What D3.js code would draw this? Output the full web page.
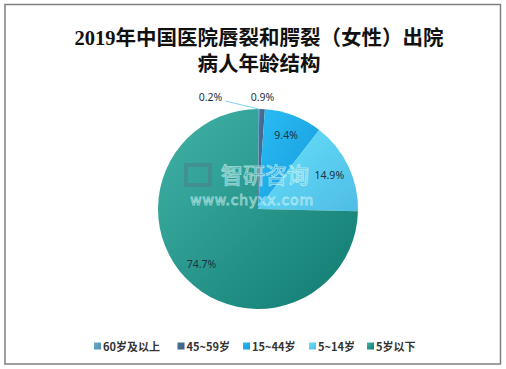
<!DOCTYPE html>
<html><head><meta charset="utf-8">
<script src="https://cdn.jsdelivr.net/npm/d3@7/dist/d3.min.js"></script>
<style>body{margin:0;background:#fff}svg{display:block}</style>
</head><body><svg id="c" width="506" height="369"></svg>
<script>
const categories = ["60岁及以上", "45~59岁", "15~44岁", "5~14岁", "5岁以下"];
const values = [0.2, 0.9, 9.4, 14.9, 74.7];
const labels = ["0.2%", "0.9%", "9.4%", "14.9%", "74.7%"];
const colorsLight = ["#66a8c8", "#4a7398", "#29bdf5", "#66e0fa", "#42b3a8"];
const colorsDark  = ["#5592b3", "#3b5d80", "#1799da", "#4fbde6", "#0f7a70"];
const titleLines = ["2019年中国医院唇裂和腭裂（女性）出院", "病人年龄结构"];

const svg = d3.select("#c");
svg.append("rect").attr("x",5).attr("y",4.5).attr("width",495.5).attr("height",359.5)
  .attr("fill","#fff").attr("stroke","#7f7f7f").attr("stroke-width",1.5);

const title = svg.append("text").attr("text-anchor","middle")
  .attr("font-family","'Liberation Serif','Noto Sans CJK SC',serif").attr("font-weight","bold")
  .attr("font-size",20.5).attr("fill","#111");
title.append("tspan").attr("x",259).attr("y",45).text(titleLines[0]);
title.append("tspan").attr("x",259).attr("y",71).text(titleLines[1]);

const cx = 258, cy = 209, r = 100;
const defs = svg.append("defs");
categories.forEach((c,i)=>{
  const g = defs.append("linearGradient").attr("id","g"+i)
    .attr("x1","0").attr("y1","0").attr("x2","1").attr("y2","1");
  g.append("stop").attr("offset","0%").attr("stop-color",colorsLight[i]);
  g.append("stop").attr("offset","100%").attr("stop-color",colorsDark[i]);
});

const pie = d3.pie().sort(null).value(d=>d)(values);
const arc = d3.arc().innerRadius(0).outerRadius(r);
const gP = svg.append("g").attr("transform",`translate(${cx},${cy})`);
gP.selectAll("path").data(pie).join("path")
  .attr("d",arc).attr("fill",(d,i)=>`url(#g${i})`);

// watermark
const wm = svg.append("g").attr("opacity",0.55);
wm.append("rect").attr("x",186).attr("y",165).attr("width",24).attr("height",20)
  .attr("fill","none").attr("stroke","#4d7f8a").attr("stroke-width",4);
wm.append("text").attr("x",221).attr("y",183).attr("text-anchor","start")
  .attr("font-family","'Noto Sans CJK SC'").attr("font-size",22)
  .attr("fill","#4d7f8a").attr("stroke","#dff").attr("stroke-width",1.2).text("智研咨询");
wm.append("text").attr("x",252).attr("y",204.5).attr("text-anchor","middle")
  .attr("font-family","'DejaVu Sans'").attr("font-size",14).attr("letter-spacing",0.8)
  .attr("fill","#4d7f8a").attr("stroke","#dff").attr("stroke-width",1).text("www.chyxx.com");

// labels
const inner = d3.arc().innerRadius(r*0.79).outerRadius(r*0.79);
const outer = d3.arc().innerRadius(r*1.12).outerRadius(r*1.12);
const pos = pie.map((d,i)=> values[i] < 5 ? outer.centroid(d) : inner.centroid(d));
// avoid overlap of small outside labels: shift first one to the left
pos[0] = [pos[1][0]-52, pos[1][1]];
const tip = d3.arc().innerRadius(r).outerRadius(r).centroid(pie[0]);
gP.append("line").attr("x1",pos[0][0]+15).attr("y1",pos[0][1]+4)
  .attr("x2",tip[0]).attr("y2",tip[1]).attr("stroke","#7fd3f0").attr("stroke-width",1);
gP.selectAll("text.l").data(pie).join("text").attr("class","l")
  .attr("x",(d,i)=>pos[i][0]).attr("y",(d,i)=>pos[i][1])
  .attr("text-anchor","middle").attr("dominant-baseline","central")
  .attr("font-family","'Noto Sans','DejaVu Sans',sans-serif").attr("font-size",10.5)
  .attr("fill","#1d3344").text((d,i)=>labels[i]);

// legend
const legX = [94, 177.5, 243, 309, 367];
const lg = svg.append("g");
categories.forEach((c,i)=>{
  lg.append("rect").attr("x",legX[i]).attr("y",342.5).attr("width",7).attr("height",7)
    .attr("fill",`url(#g${i})`);
  lg.append("text").attr("x",legX[i]+9).attr("y",346).attr("dominant-baseline","central")
    .attr("font-family","'Noto Sans CJK SC',sans-serif").attr("font-weight","bold")
    .attr("font-size",11).attr("fill","#333").text(c);
});
</script></body></html>
